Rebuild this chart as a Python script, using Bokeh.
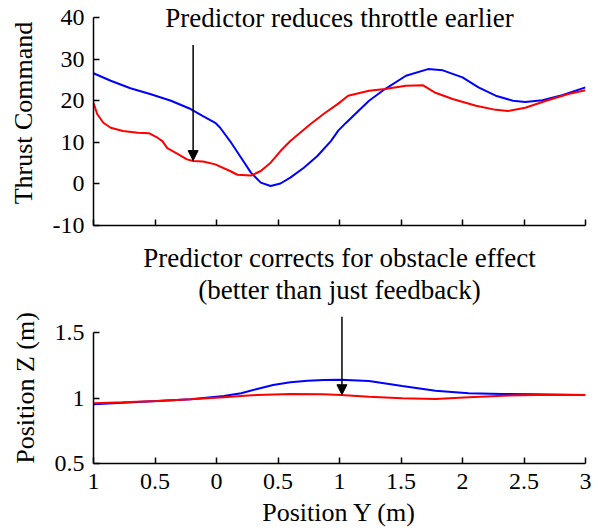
from bokeh.plotting import figure
from bokeh.layouts import column
from bokeh.models import FixedTicker, Arrow, NormalHead, Range1d, Title
from bokeh.core.properties import value
from bokeh.embed import file_html
from bokeh.resources import INLINE

# ---- data ----
thrust_blue_x = [-1.0, -0.86, -0.70, -0.54, -0.37, -0.21, -0.11, -0.01, 0.03, 0.11, 0.20, 0.28,
                 0.36, 0.44, 0.52, 0.60, 0.71, 0.82, 0.93, 0.99, 1.05, 1.24, 1.37, 1.54, 1.72,
                 1.84, 2.00, 2.13, 2.27, 2.41, 2.51, 2.65, 2.81, 3.0]
thrust_blue_y = [26.6, 24.8, 23.0, 21.6, 20.0, 18.0, 16.3, 14.7, 13.5, 10.3, 6.3, 2.7,
                 0.3, -0.5, 0.1, 1.5, 3.9, 6.7, 10.3, 12.8, 14.6, 20.0, 22.8, 26.0, 27.6,
                 27.3, 25.6, 23.2, 21.2, 20.0, 19.7, 20.1, 21.3, 23.2]
thrust_red_x = [-1.0, -0.97, -0.92, -0.86, -0.76, -0.64, -0.55, -0.48, -0.44, -0.40, -0.32, -0.24,
                -0.19, -0.11, -0.01, 0.11, 0.17, 0.28, 0.36, 0.44, 0.52, 0.60, 0.68, 0.76, 0.87,
                0.99, 1.07, 1.24, 1.37, 1.54, 1.68, 1.78, 1.92, 2.11, 2.27, 2.37, 2.51, 2.68,
                2.86, 3.0]
thrust_red_y = [19.5, 16.8, 14.7, 13.5, 12.7, 12.3, 12.2, 11.1, 10.3, 8.6, 7.3, 5.9,
                5.5, 5.4, 4.7, 3.1, 2.2, 2.0, 3.1, 5.1, 7.9, 10.3, 12.3, 14.3, 16.8,
                19.3, 21.2, 22.4, 22.8, 23.6, 23.7, 21.9, 20.4, 18.8, 17.8, 17.5, 18.3, 20.0,
                21.6, 22.5]

posz_blue_x = [-1.0, -0.76, -0.48, -0.21, 0.06, 0.20, 0.33, 0.46, 0.60, 0.74, 0.87, 1.01,
               1.24, 1.51, 1.78, 2.05, 2.33, 2.59, 3.0]
posz_blue_y = [0.952, 0.964, 0.977, 0.99, 1.015, 1.036, 1.069, 1.099, 1.12, 1.132, 1.137, 1.140,
               1.13, 1.092, 1.056, 1.036, 1.031, 1.028, 1.023]
posz_red_x = [-1.0, -0.76, -0.48, -0.21, 0.06, 0.20, 0.33, 0.60, 0.87, 1.01, 1.24, 1.51,
              1.78, 2.05, 2.33, 2.59, 3.0]
posz_red_y = [0.96, 0.967, 0.977, 0.99, 1.005, 1.015, 1.023, 1.03, 1.028, 1.023, 1.01, 0.998,
              0.992, 1.005, 1.018, 1.023, 1.023]

x_ticks = [-1, -0.5, 0, 0.5, 1, 1.5, 2, 2.5, 3]
x_tick_labels = ["1", "0.5", "0", "0.5", "1", "1.5", "2", "2.5", "3"]
thrust_ticks = [-10, 0, 10, 20, 30, 40]
thrust_tick_labels = ["-10", "0", "10", "20", "30", "40"]
posz_ticks = [0.5, 1, 1.5]
posz_tick_labels = ["0.5", "1", "1.5"]

FONT = "Liberation Serif"
TICK_SIZE = "24px"
LABEL_SIZE = "26px"
NOTE_SIZE = "27px"


def style(p):
    p.grid.visible = False
    p.outline_line_color = None
    p.background_fill_color = "white"
    p.border_fill_color = "white"
    for ax in (p.xaxis[0], p.yaxis[0]):
        ax.axis_line_width = 1.5
        ax.axis_line_color = "black"
        ax.major_tick_in = 6
        ax.major_tick_out = 0
        ax.major_tick_line_width = 1.5
        ax.minor_tick_line_color = None
        ax.major_label_text_font = FONT
        ax.major_label_text_font_size = TICK_SIZE
        ax.major_label_text_color = "black"
        ax.axis_label_text_font = FONT
        ax.axis_label_text_font_size = LABEL_SIZE
        ax.axis_label_text_font_style = "normal"
        ax.axis_label_text_color = "black"


# ---- top: thrust command ----
p1 = figure(width=598, height=240, output_backend="svg", toolbar_location=None, title=None,
            x_range=Range1d(-1, 3), y_range=Range1d(-10, 44.09),
            min_border_left=93, min_border_right=13, min_border_top=0, min_border_bottom=15)
style(p1)
p1.xaxis.ticker = FixedTicker(ticks=x_ticks)
p1.xaxis.major_label_overrides = {t: "" for t in x_ticks}
p1.xaxis.major_label_standoff = 0
p1.xaxis.bounds = (-1, 3)
p1.yaxis.ticker = FixedTicker(ticks=thrust_ticks)
p1.yaxis.major_label_overrides = {t: lab for t, lab in zip(thrust_ticks, thrust_tick_labels)}
p1.yaxis.bounds = (-10, 40)
p1.yaxis.axis_label = "Thrust Command"
p1.yaxis.major_label_standoff = 9
p1.yaxis.axis_label_standoff = 12

p1.line(thrust_blue_x, thrust_blue_y, line_color="#0000ff", line_width=2)
p1.line(thrust_red_x, thrust_red_y, line_color="#ff0000", line_width=2)

p1.text(x=[1.0], y=[40], text=["Predictor reduces throttle earlier"],
        text_align="center", text_baseline="middle",
        text_font=value(FONT), text_font_size=NOTE_SIZE, text_color="black")
p1.add_layout(Arrow(x_start=-0.19, y_start=33.4, x_end=-0.19, y_end=5.6,
                    line_color="black", line_width=1.5,
                    end=NormalHead(size=10, fill_color="black", line_color="black", line_width=1)))

# ---- bottom: position Z ----
p2 = figure(width=598, height=291, output_backend="svg", toolbar_location=None, title=None,
            x_range=Range1d(-1, 3), y_range=Range1d(0.5, 1.653),
            min_border_left=93, min_border_right=13, min_border_top=72, min_border_bottom=68)
style(p2)
p2.add_layout(Title(text="(better than just feedback)", align="center", offset=3,
                    standoff=0, padding=dict(left=0, right=0, top=0, bottom=8),
                    text_line_height=0.85,
                    text_font=FONT, text_font_size=NOTE_SIZE, text_font_style="normal",
                    text_color="black"), "above")
p2.add_layout(Title(text="Predictor corrects for obstacle effect", align="center", offset=3,
                    standoff=0,
                    text_font=FONT, text_font_size=NOTE_SIZE, text_font_style="normal",
                    text_color="black"), "above")
p2.xaxis.ticker = FixedTicker(ticks=x_ticks)
p2.xaxis.major_label_overrides = {t: lab for t, lab in zip(x_ticks, x_tick_labels)}
p2.xaxis.axis_label = "Position Y (m)"
p2.xaxis.major_label_standoff = 10
p2.xaxis.axis_label_standoff = 6
p2.yaxis.ticker = FixedTicker(ticks=posz_ticks)
p2.yaxis.major_label_overrides = {t: lab for t, lab in zip(posz_ticks, posz_tick_labels)}
p2.yaxis.bounds = (0.5, 1.5)
p2.yaxis.axis_label = "Position Z (m)"
p2.yaxis.major_label_standoff = 9
p2.yaxis.axis_label_standoff = 12

p2.line(posz_blue_x, posz_blue_y, line_color="#0000ff", line_width=2)
p2.line(posz_red_x, posz_red_y, line_color="#ff0000", line_width=2)

p2.add_layout(Arrow(x_start=1.02, y_start=1.62, x_end=1.02, y_end=1.025,
                    line_color="black", line_width=1.5,
                    end=NormalHead(size=10, fill_color="black", line_color="black", line_width=1)))

layout = column(p1, p2, spacing=0)
open("out.html", "w").write(file_html(layout, INLINE))
